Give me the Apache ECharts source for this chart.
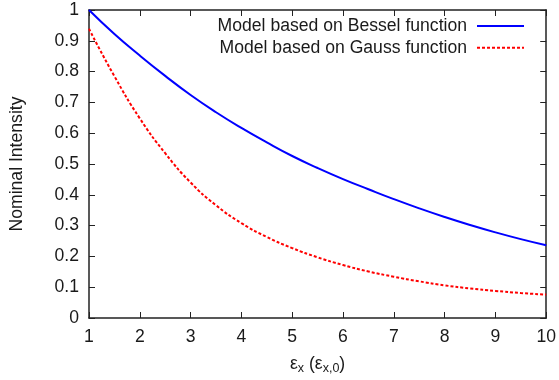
<!DOCTYPE html>
<html>
<head>
<meta charset="utf-8">
<script src="https://cdn.jsdelivr.net/npm/echarts@6/dist/echarts.min.js"></script>
<style>
html,body{margin:0;padding:0;background:#fff;}
#chart{width:559px;height:380px;}
</style>
</head>
<body>
<div id="chart"></div>
<script>
// ---- data ----
var xValues = [1, 1.5, 2, 2.5, 3, 3.5, 4, 4.5, 5, 5.5, 6, 6.5, 7, 7.5, 8, 8.5, 9, 9.5, 10];
var besselValues = [1.0, 0.922, 0.852, 0.786, 0.724, 0.668, 0.617, 0.570, 0.526, 0.487, 0.451, 0.418, 0.386, 0.356, 0.328, 0.302, 0.278, 0.256, 0.236];
var gaussValues = [0.939, 0.785, 0.648, 0.535, 0.440, 0.366, 0.308, 0.263, 0.227, 0.197, 0.172, 0.151, 0.134, 0.119, 0.106, 0.096, 0.088, 0.081, 0.076];
var seriesNames = ['Model based on Bessel function', 'Model based on Gauss function'];
var xTickMin = 1, xTickMax = 10, xTickStep = 1;
var yTickMin = 0, yTickMax = 1, yTickStep = 0.1;
var yAxisTitle = 'Nominal Intensity';

function pairs(xs, ys) { return xs.map(function (x, i) { return [x, ys[i]]; }); }

var FONT = 'Liberation Sans, Arial, Helvetica, sans-serif';
var TXT = '#1a1a1a';
var AXC = '#222';
var FS = 17.6;

var chart = echarts.init(document.getElementById('chart'), null, {renderer: 'canvas'});
var option = {
  animation: false,
  backgroundColor: '#fff',
  textStyle: {fontFamily: FONT},
  grid: {left: 89, right: 12, top: 10, bottom: 62, containLabel: false},
  legend: {
    orient: 'vertical',
    right: 34,
    top: 17,
    padding: 0,
    align: 'right',
    itemWidth: 47,
    itemHeight: 14,
    itemGap: 3.7,
    data: seriesNames,
    itemStyle: {opacity: 0},
    textStyle: {fontFamily: FONT, fontSize: FS, color: TXT, padding: [0, 5, 0, 0]}
  },
  xAxis: [{
    type: 'value', min: xTickMin, max: xTickMax, interval: xTickStep, position: 'bottom',
    name: '{a|ε}{s|x}{a| (ε}{s|x,0}{a|)}',
    nameLocation: 'middle', nameGap: 35,
    nameTextStyle: {
      rich: {
        a: {fontFamily: FONT, fontSize: FS, color: TXT, lineHeight: 22},
        s: {fontFamily: FONT, fontSize: 12.5, color: TXT, lineHeight: 12, verticalAlign: 'bottom'}
      }
    },
    axisLine: {show: true, onZero: false, lineStyle: {color: AXC, width: 1.5}},
    axisTick: {show: true, inside: true, length: 6, lineStyle: {color: AXC, width: 1}},
    axisLabel: {fontFamily: FONT, fontSize: FS, color: TXT, margin: 10},
    splitLine: {show: false}
  }, {
    type: 'value', min: xTickMin, max: xTickMax, interval: xTickStep, position: 'top',
    axisLine: {show: true, onZero: false, lineStyle: {color: AXC, width: 1.5}},
    axisTick: {show: true, inside: true, length: 6, lineStyle: {color: AXC, width: 1}},
    axisLabel: {show: false},
    splitLine: {show: false}
  }],
  yAxis: [{
    type: 'value', min: yTickMin, max: yTickMax, interval: yTickStep, position: 'left',
    name: yAxisTitle, nameLocation: 'middle', nameGap: 63, nameRotate: 90,
    nameTextStyle: {fontFamily: FONT, fontSize: FS, color: TXT},
    axisLine: {show: true, onZero: false, lineStyle: {color: AXC, width: 1.5}},
    axisTick: {show: true, inside: true, length: 6, lineStyle: {color: AXC, width: 1}},
    axisLabel: {fontFamily: FONT, fontSize: FS, color: TXT, margin: 10,
      formatter: function (v) { return String(+v.toFixed(1)); }},
    splitLine: {show: false}
  }, {
    type: 'value', min: yTickMin, max: yTickMax, interval: yTickStep, position: 'right',
    axisLine: {show: true, onZero: false, lineStyle: {color: AXC, width: 1.5}},
    axisTick: {show: true, inside: true, length: 6, lineStyle: {color: AXC, width: 1}},
    axisLabel: {show: false},
    splitLine: {show: false}
  }],
  series: [{
    name: seriesNames[0], type: 'line', xAxisIndex: 0, yAxisIndex: 0,
    data: pairs(xValues, besselValues), smooth: 0.5, symbol: 'none',
    lineStyle: {color: '#0000ff', width: 2, type: 'solid'},
    itemStyle: {color: '#0000ff'}
  }, {
    name: seriesNames[1], type: 'line', xAxisIndex: 0, yAxisIndex: 0,
    data: pairs(xValues, gaussValues), smooth: 0.5, symbol: 'none',
    lineStyle: {color: '#ff0000', width: 2, type: [3, 2]},
    itemStyle: {color: '#ff0000'}
  }]
};
chart.setOption(option);
</script>
</body>
</html>
